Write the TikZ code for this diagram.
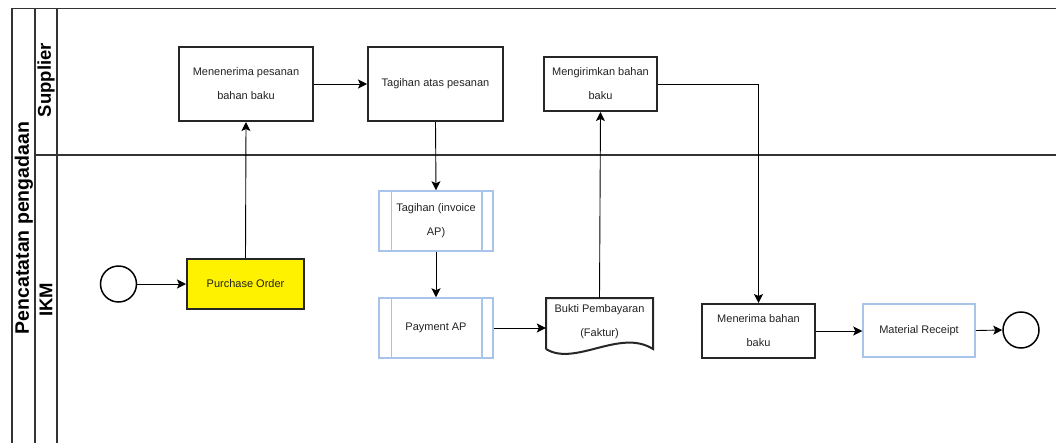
\documentclass[tikz,border=0pt]{standalone}
\usepackage{fontspec}
\setmainfont{Liberation Sans}
\usetikzlibrary{arrows.meta,positioning,calc}
\definecolor{lblue}{HTML}{A9C4EB}
\definecolor{txt}{HTML}{222222}
\begin{document}
\begin{tikzpicture}[x=1pt,y=-1pt,
  lane/.style={line width=1.2pt,draw=black!80},
  txtfont/.style={font=\fontsize{11}{24}\selectfont,text=txt,align=center},
  task/.style={txtfont,draw=black!85,line width=2pt,inner sep=2pt},
  subproc/.style={txtfont,draw=lblue,line width=1.5pt,inner sep=2pt},
  evt/.style={circle,draw=black,line width=1.5pt,minimum size=36pt,inner sep=0pt},
  flow/.style={line width=0.9pt,-{Stealth[length=9pt,width=9pt,inset=2pt]}},
  lanelbl/.style={font=\fontsize{18.5}{19}\selectfont\bfseries,rotate=90}
]
\useasboundingbox (0,0) rectangle (1056,442);
% pool frame
\draw[lane] (12,445) -- (12,8.5) -- (1058,8.5);
\draw[lane] (35,8.5) -- (35,445);
\draw[lane] (57,8.5) -- (57,445);
\draw[lane] (35,155) -- (1058,155);
\node[lanelbl,font=\fontsize{19.5}{20}\selectfont\bfseries] (pool) at (24,228) {Pencatatan pengadaan};
\node[lanelbl] (lsup) at (46,80) {Supplier};
\node[lanelbl] (likm) at (46,300) {IKM};
% nodes
\node[evt] (start) at (118.5,284) {};
\node[task,fill=yellow,minimum width=117pt,minimum height=50pt] (po) at (245.5,284) {Purchase Order};
\node[task,minimum width=134pt,minimum height=74pt] (m1) at (246,84) {Menenerima pesanan\\bahan baku};
\node[task,minimum width=135pt,minimum height=74pt] (t1) at (435.5,84) {Tagihan atas pesanan};
\node[task,minimum width=113pt,minimum height=54pt] (kirim) at (600.5,84) {Mengirimkan bahan\\baku};
\node[subproc,minimum width=114pt,minimum height=60pt] (inv) at (436,221) {Tagihan (invoice\\AP)};
\node[subproc,minimum width=114pt,minimum height=60pt] (pay) at (436,328) {Payment AP};
\draw[lblue,line width=1.5pt] ($(inv.north west)+(13,0)$) -- ($(inv.south west)+(13,0)$);
\draw[lblue,line width=1.5pt] ($(inv.north east)+(-12,0)$) -- ($(inv.south east)+(-12,0)$);
\draw[lblue,line width=1.5pt] ($(pay.north west)+(13,0)$) -- ($(pay.south west)+(13,0)$);
\draw[lblue,line width=1.5pt] ($(pay.north east)+(-12,0)$) -- ($(pay.south east)+(-12,0)$);
\node[txtfont,minimum width=107pt,minimum height=48pt,inner sep=0pt] (bukti) at (599.5,322) {Bukti Pembayaran\\(Faktur)};
\draw[black!85,line width=2pt,line join=miter] (546,349) -- (546,298) -- (653,298) -- (653,349)
  .. controls (620,328) and (575,367) .. (546,349);
\node[task,minimum width=113pt,minimum height=54pt] (terima) at (758.5,331) {Menerima bahan\\baku};
\node[subproc,minimum width=112pt,minimum height=53pt] (mr) at (919,330.5) {Material Receipt};
\node[evt] (end) at (1021,330) {};
% flows
\draw[flow] (start) -- (po);
\draw[flow] (po.north) -- (m1.south);
\draw[flow] (m1.east) -- (t1.west);
\draw[flow] (t1.south) -- (inv.north);
\draw[flow] (inv.south) -- (pay.north);
\draw[flow] (pay.east) -- (pay.east -| bukti.west);
\draw[flow] (bukti.north) -- (kirim.south);
\draw[flow] (kirim.east) -| (terima.north);
\draw[flow] (terima.east) -- (terima.east -| mr.west);
\draw[flow] (mr.east) -- (end.west);
\end{tikzpicture}
\end{document}
